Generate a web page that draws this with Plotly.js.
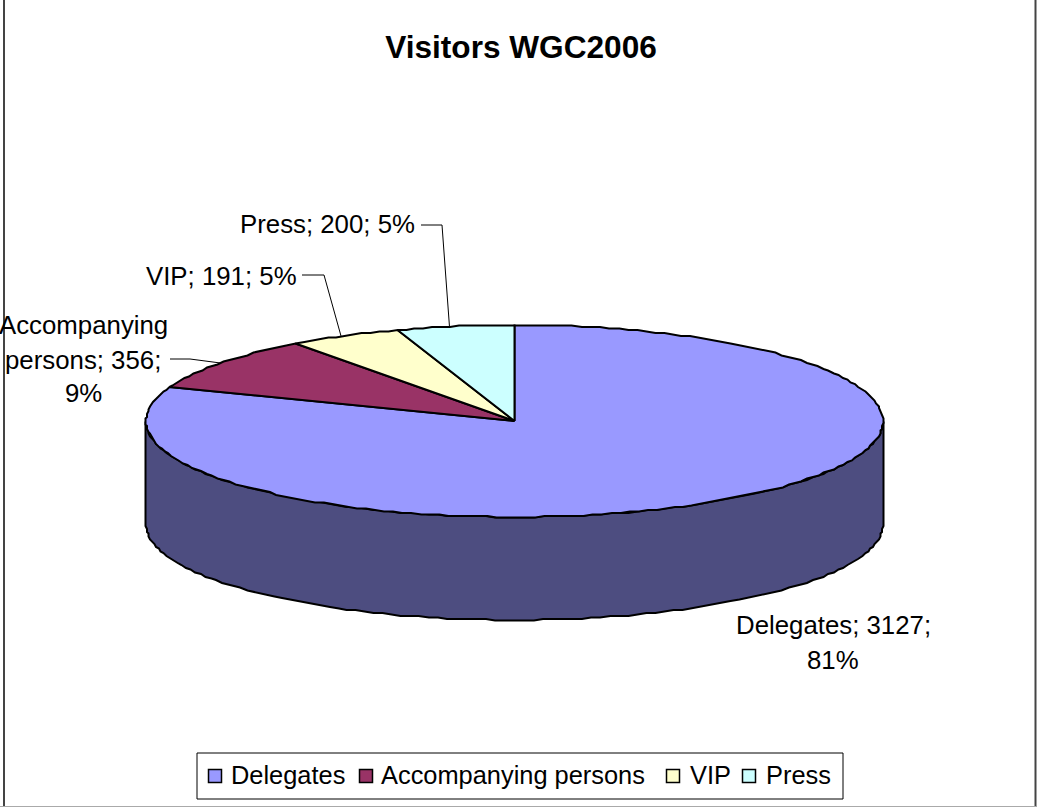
<!DOCTYPE html>
<html>
<head>
<meta charset="utf-8">
<script src="https://cdn.plot.ly/plotly-3.0.1.min.js"></script>
<style>html,body{margin:0;padding:0;background:#fff;overflow:hidden}</style>
</head>
<body>
<div id="chart" style="width:1037px;height:807px"></div>
<script>
const categories = ["Delegates", "Accompanying persons", "VIP", "Press"];
const visitors = [3127, 356, 191, 200];
const percentLabels = ["81%", "9%", "5%", "5%"];
const sliceColors = ["#9999FF", "#993366", "#FFFFCC", "#CCFFFF"];
const wallColor = "#4D4D80";
const titleText = "Visitors WGC2006";

const FONT = "Liberation Sans, Arial, sans-serif";
const cx = 514.5, cy = 421, rx = 368.5, ry = 96, depth = 103;
const total = visitors.reduce((a, b) => a + b, 0);
const snap = v => Math.round(v / 1.5) * 1.5;   // slight raster look of the rim
const px = t => snap(cx + rx * Math.sin(t));
const py = t => snap(cy - ry * Math.cos(t));
const stepAngle = 1.5 * Math.PI / 180;

function arc(a0, a1) {
  const n = Math.max(2, Math.ceil(Math.abs(a1 - a0) / stepAngle));
  const out = [];
  for (let i = 0; i <= n; i++) out.push(a0 + (a1 - a0) * i / n);
  return out;
}

const traces = [];
// cylinder wall: front half of the rim, lowered by the depth
const front = arc(Math.PI / 2, 3 * Math.PI / 2);
traces.push({
  type: "scatter", mode: "lines", fill: "toself", fillcolor: wallColor,
  line: {color: "#000", width: 2}, showlegend: false, hoverinfo: "skip",
  x: front.map(px).concat(front.slice().reverse().map(px), [px(front[0])]),
  y: front.map(py).concat(front.slice().reverse().map(t => py(t) + depth), [py(front[0])])
});

// slices run clockwise from 12 o'clock
let acc = 0;
const mids = [];
visitors.forEach((v, i) => {
  const a0 = acc / total * 2 * Math.PI;
  acc += v;
  const a1 = acc / total * 2 * Math.PI;
  mids.push((a0 + a1) / 2);
  const a = arc(a0, a1);
  traces.push({
    type: "scatter", mode: "lines", fill: "toself", fillcolor: sliceColors[i],
    line: {color: "#000", width: 2}, showlegend: false, name: categories[i],
    x: [cx].concat(a.map(px), [cx]),
    y: [cy].concat(a.map(py), [cy]),
    hoverinfo: "name"
  });
});

// leader lines: label side -> elbow -> rim near the slice's mid angle
const leaders = [
  {i: 1, from: [170, 359], elbow: [190, 359], dx: 0},
  {i: 2, from: [302, 275], elbow: [324, 275], dx: -4},
  {i: 3, from: [421, 225], elbow: [442, 225], dx: -5}
];
leaders.forEach(l => {
  traces.push({
    type: "scatter", mode: "lines", showlegend: false, hoverinfo: "skip",
    line: {color: "#000", width: 1},
    x: [l.from[0], l.elbow[0], px(mids[l.i]) + l.dx],
    y: [l.from[1], l.elbow[1], py(mids[l.i])]
  });
});

// legend row, placed to match the reference's tight spacing
const legendSwatchX = [215, 366, 673, 749];
const legendTextX = [229, 379, 688, 764];
const legendY = 776;
traces.push({
  type: "scatter", mode: "markers", showlegend: false, hoverinfo: "skip",
  x: legendSwatchX, y: categories.map(() => legendY),
  marker: {symbol: "square", size: 13, color: sliceColors, line: {color: "#000", width: 1.5}}
});

function lbl(text, x, y, xanchor, size) {
  return {text, x, y, xref: "x", yref: "y", xanchor, yanchor: "middle", showarrow: false,
          font: {family: FONT, size: size, color: "#000"}};
}
const annotations = [
  lbl(categories[0] + "; " + visitors[0] + ";", 833, 625, "center", 25.8),
  lbl(percentLabels[0], 833, 660, "center", 25.8),
  lbl("Accompanying", 83, 325, "center", 25.8),
  lbl("persons; " + visitors[1] + ";", 83, 360, "center", 25.8),
  lbl(percentLabels[1], 83, 393, "center", 25.8),
  lbl(categories[2] + "; " + visitors[2] + "; " + percentLabels[2], 299, 276, "right", 25.8),
  lbl(categories[3] + "; " + visitors[3] + "; " + percentLabels[3], 417, 224, "right", 25.8)
].concat(categories.map((c, i) => lbl(c, legendTextX[i], legendY - 1, "left", 25.4)));

const frame = (x0, y0, x1, y1, color, width) =>
  ({type: "line", xref: "x", yref: "y", x0, y0, x1, y1, line: {color, width}, layer: "below"});

const layout = {
  width: 1037, height: 807,
  margin: {l: 0, r: 0, t: 0, b: 0},
  paper_bgcolor: "#fff", plot_bgcolor: "#fff",
  showlegend: false,
  title: {text: titleText, x: 521 / 1037, xanchor: "center", y: 1 - 47 / 807, yanchor: "middle",
          font: {family: FONT, size: 31.6, color: "#000", weight: "bold"}},
  xaxis: {range: [0, 1037], visible: false, fixedrange: true},
  yaxis: {range: [807, 0], visible: false, fixedrange: true},
  annotations,
  shapes: [
    frame(4, 0, 4, 807, "#444", 2),
    frame(1035.5, 0, 1035.5, 807, "#444", 2),
    frame(0, 806.5, 1037, 806.5, "#aaa", 1),
    {type: "rect", xref: "x", yref: "y", x0: 197, x1: 843, y0: 753, y1: 799,
     line: {color: "#000", width: 1}, fillcolor: "#fff", layer: "below"}
  ],
  hovermode: "closest"
};

Plotly.newPlot("chart", traces, layout, {displayModeBar: false, staticPlot: true});
</script>
</body>
</html>
